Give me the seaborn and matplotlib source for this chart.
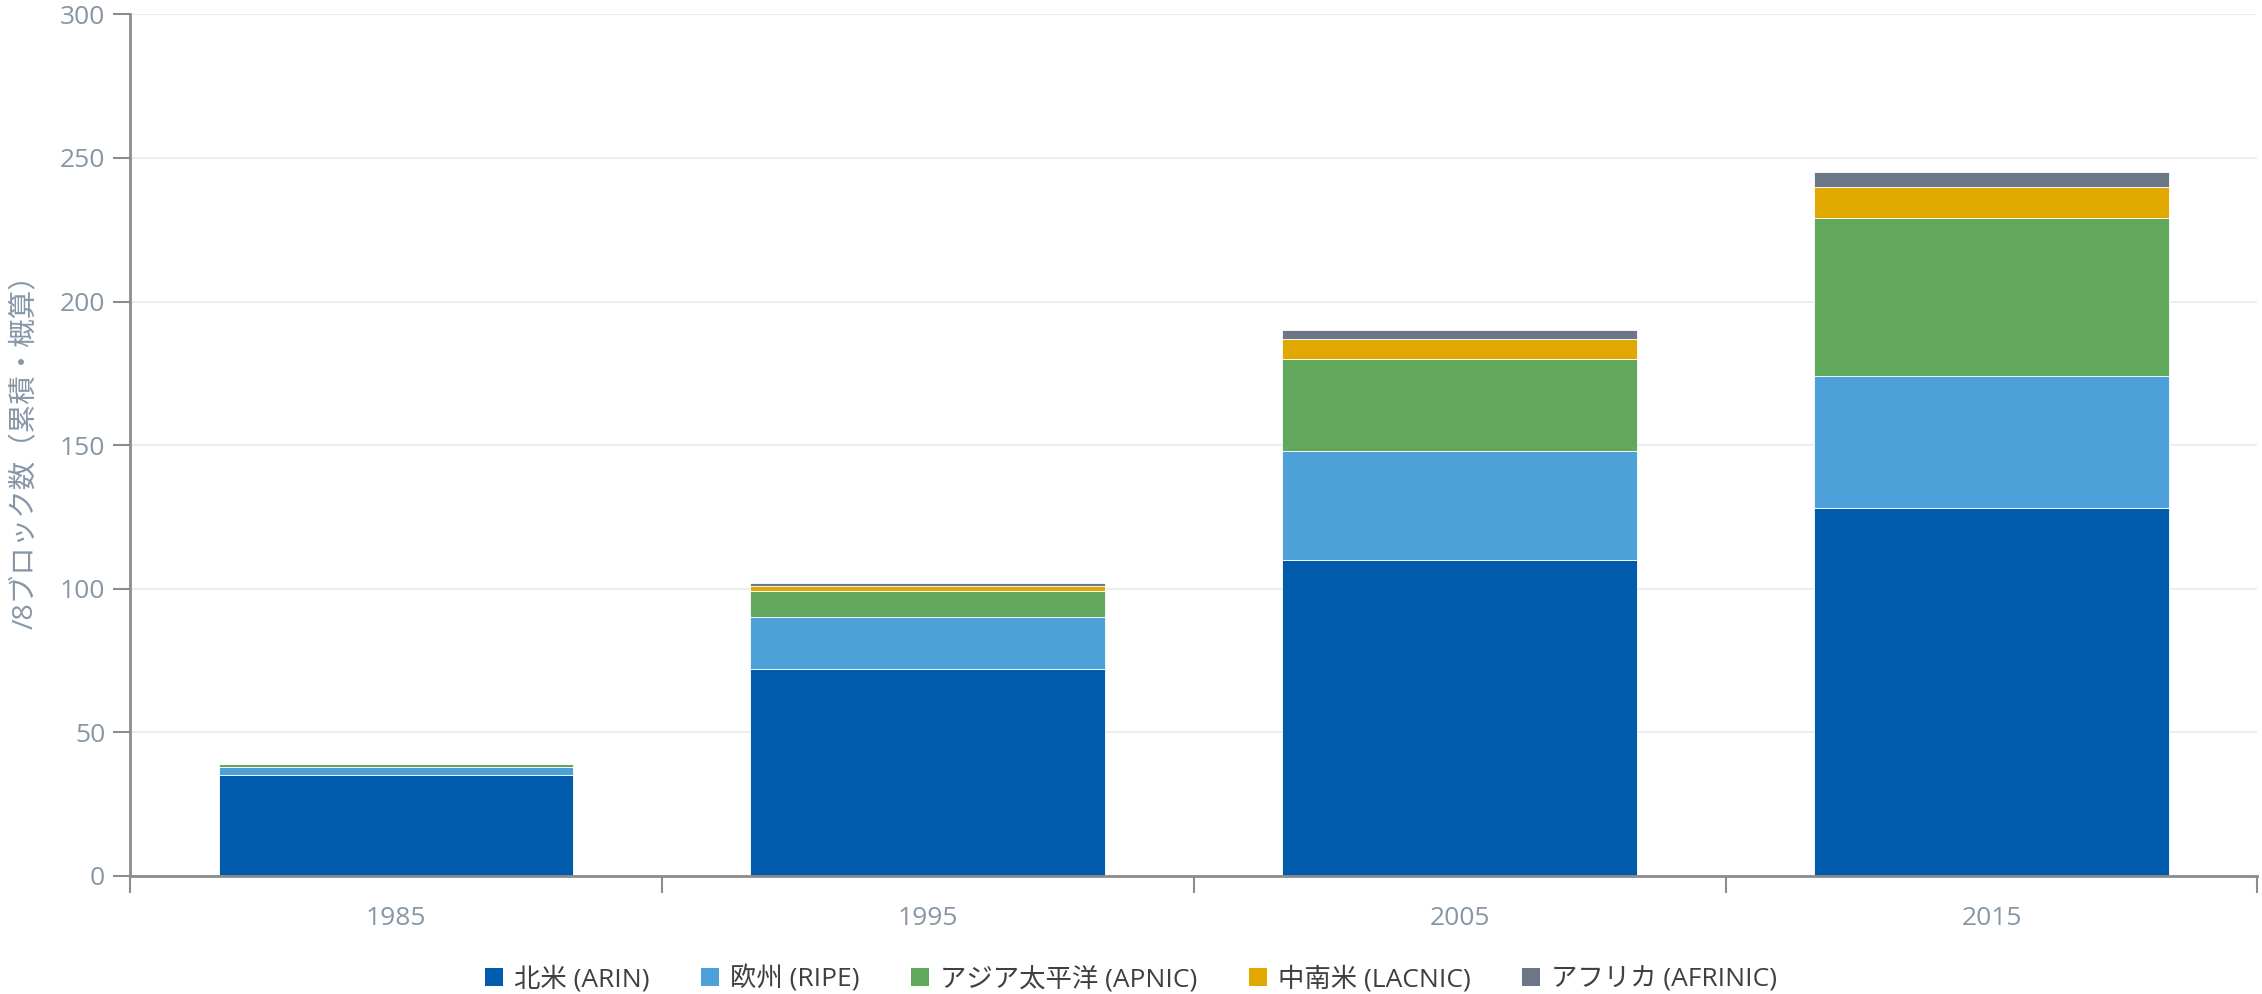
import numpy as np
import pandas as pd
import matplotlib
matplotlib.use("Agg")
import matplotlib.pyplot as plt
from matplotlib.patches import Patch
import seaborn as sns

years = ["1985", "1995", "2005", "2015"]
regions = ["北米 (ARIN)", "欧州 (RIPE)", "アジア太平洋 (APNIC)", "中南米 (LACNIC)", "アフリカ (AFRINIC)"]
arin = [35, 72, 110, 128]
ripe = [3, 18, 38, 46]
apnic = [1, 9, 32, 55]
lacnic = [0, 2, 7, 11]
afrinic = [0, 1, 3, 5]
colors = ["#005BAC", "#4DA1D8", "#61A85D", "#E0A800", "#6B7786"]

sns.set_style("white")
plt.rcParams['font.family'] = ['Open Sans', 'Noto Sans CJK JP', 'DejaVu Sans']

tick_color = "#8796A6"

fig = plt.figure(figsize=(22.62, 9.94), dpi=100)
ax = fig.add_axes([0.0575, 0.119, 0.9405, 0.8665])

bottom = np.zeros(len(years))
for name, vals, c in zip(regions, [arin, ripe, apnic, lacnic, afrinic], colors):
    df = pd.DataFrame({"year": years, "v": vals})
    sns.barplot(data=df, x="year", y="v", color=c, width=0.667, bottom=bottom,
                edgecolor="white", linewidth=0.6, saturation=1, ax=ax)
    bottom = bottom + np.array(vals)

ax.set_xlim(-0.5, 3.5)
ax.set_ylim(0, 300)
ax.set_yticks(range(0, 301, 50))
ax.yaxis.grid(True, color="#E6EAF0", linewidth=1.2)
ax.set_axisbelow(True)

for s in ["top", "right"]:
    ax.spines[s].set_visible(False)
for s in ["left", "bottom"]:
    ax.spines[s].set_color("#8C8C8C")
    ax.spines[s].set_linewidth(2)

ax.set_xticks(np.arange(-0.5, 3.6, 1), minor=True)
ax.tick_params(axis="x", which="major", bottom=False, length=0, labelsize=19, labelcolor=tick_color, pad=22)
ax.tick_params(axis="x", which="minor", bottom=True, length=12, width=1.5, color="#8C8C8C", direction="out")
ax.tick_params(axis="y", left=True, length=12, width=1.5, color="#8C8C8C", labelsize=19,
               labelcolor=tick_color, pad=6, direction="out")

ax.set_xlabel("")
ax.set_ylabel("/8ブロック数（累積・概算）", fontsize=20.5, color=tick_color, labelpad=14)

handles = [Patch(facecolor=c, edgecolor="none") for c in colors]
fig.legend(handles, regions, loc="lower center", bbox_to_anchor=(0.5, -0.022), ncol=5,
           frameon=False, fontsize=19, labelcolor="#404040", handlelength=0.7, handleheight=0.7,
           handletextpad=0.4, columnspacing=1.95)

fig.savefig("out.png", dpi=100)
